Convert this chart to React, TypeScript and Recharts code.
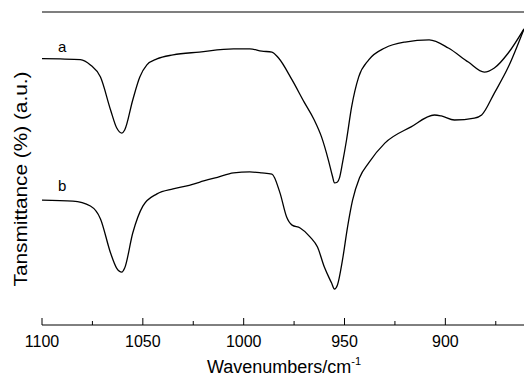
import { LineChart, Line, XAxis, YAxis, ReferenceLine } from 'recharts';

// wavenumber (cm-1) and transmittance (a.u.)
const waveA = [1100, 1091, 1081, 1076, 1071, 1066, 1063, 1060.4, 1059, 1055, 1051.5, 1048, 1043, 1035, 1022, 1005, 997, 991, 986, 982.7, 976, 970, 965, 961.4, 958, 956, 955, 953.5, 952.5, 951, 949, 946.5, 943, 938, 930, 920, 908, 898.5, 888.6, 880.7, 875.7, 868.8, 861];
const valuesA = [85.1, 85.0, 84.8, 83.1, 79.2, 68.7, 63.0, 61.3, 62.3, 71.9, 79.2, 83.1, 85.0, 86.3, 87.2, 88.2, 88.2, 87.5, 87.2, 85.3, 78.3, 71.2, 65.5, 60.1, 52.7, 47.6, 45.4, 45.7, 47.0, 51.8, 59.1, 69.6, 79.2, 84.7, 88.5, 90.4, 91.1, 88.5, 84.0, 80.8, 82.1, 86.9, 94.6];

const waveB = [1100, 1084.7, 1076, 1071, 1066, 1063, 1060.4, 1059, 1055, 1050, 1043, 1035, 1027, 1022, 1013, 1005, 997, 991, 986, 982, 978.7, 976, 972, 967, 963.4, 960, 956.4, 955, 953.5, 951, 948.5, 946, 942.6, 938, 930, 917, 905.4, 902, 895.5, 885.6, 882, 875.7, 868.8, 861];
const valuesB = [39.9, 39.6, 38.0, 33.9, 23.0, 18.2, 16.9, 18.2, 29.4, 38.0, 41.9, 43.5, 44.6, 45.6, 47.2, 48.6, 48.9, 48.6, 48.2, 42.2, 34.5, 31.9, 31.0, 28.1, 24.9, 18.5, 13.4, 11.5, 12.8, 20.8, 31.3, 39.9, 47.0, 51.8, 58.1, 63.3, 67.1, 66.8, 65.5, 66.1, 67.1, 74.1, 82.4, 94.6];

const xTicks = [1100, 1075, 1050, 1025, 1000, 975, 950, 925, 900, 875];

const seriesA = waveA.map((w, i) => ({ w, t: valuesA[i] }));
const seriesB = waveB.map((w, i) => ({ w, t: valuesB[i] }));

const FONT = 'Liberation Sans, Arial, sans-serif';

const BottomTick = (props: any) => {
  const { x, y, payload } = props;
  const major = payload.value % 50 === 0;
  return (
    <g>
      <line x1={x} y1={y} x2={x} y2={y - (major ? 7 : 4)} stroke="#000" strokeWidth={1} />
      {major && (
        <text x={x} y={y + 22} textAnchor="middle" fontSize={16} fontFamily={FONT} fill="#000">
          {payload.value}
        </text>
      )}
    </g>
  );
};

export default function App() {
  return (
    <div style={{ position: 'absolute', left: 0, top: 0, width: 524, height: 376, background: '#fff' }}>
      <LineChart width={524} height={376} margin={{ top: 12, right: 0, bottom: 0, left: 42 }}>
        <XAxis
          type="number"
          dataKey="w"
          domain={[861, 1100]}
          reversed
          ticks={xTicks}
          interval={0}
          tickSize={0}
          tickMargin={0}
          tick={<BottomTick />}
          height={51}
          axisLine={{ stroke: '#000' }}
          allowDataOverflow
        />
        <YAxis type="number" domain={[0, 100]} width={0} tick={false} tickLine={false} axisLine={{ stroke: '#000' }} />
        <ReferenceLine y={100} stroke="#000" strokeWidth={1.2} />
        <Line data={seriesA} dataKey="t" type="monotone" stroke="#000" strokeWidth={1.3} dot={false} isAnimationActive={false} />
        <Line data={seriesB} dataKey="t" type="monotone" stroke="#000" strokeWidth={1.3} dot={false} isAnimationActive={false} />
        <text x={58} y={52} fontSize={15} fontFamily={FONT} fill="#000">a</text>
        <text x={58} y={191} fontSize={15} fontFamily={FONT} fill="#000">b</text>
        <text x={284} y={373} textAnchor="middle" fontSize={18} fontFamily={FONT} fill="#000">
          Wavenumbers/cm<tspan fontSize={11} dy={-8}>-1</tspan>
        </text>
        <text
          x={27}
          y={179}
          transform="rotate(-90 27 179)"
          textAnchor="middle"
          fontSize={18}
          fontFamily={FONT}
          fill="#000"
          textLength={215}
          lengthAdjust="spacingAndGlyphs"
        >
          Tansmittance (%) (a.u.)
        </text>
      </LineChart>
    </div>
  );
}
